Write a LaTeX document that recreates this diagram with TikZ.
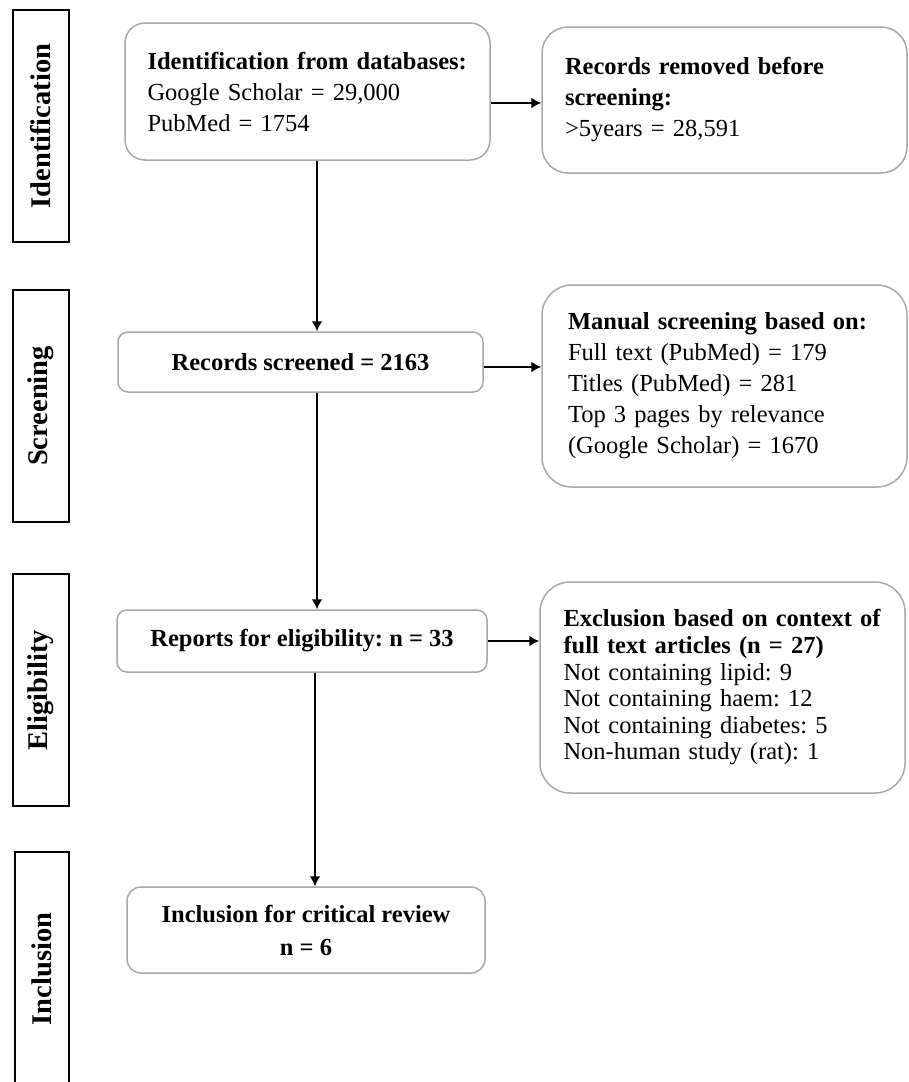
\documentclass[tikz,border=0pt]{standalone}
\usepackage{fontspec}
\setmainfont{Liberation Serif}
\usepackage{tikz}
\usetikzlibrary{arrows.meta,positioning}
\definecolor{boxgray}{HTML}{A8A8A8}
\frenchspacing

\tikzset{
  phase/.style={draw=black,line width=1.4pt,rotate=90,minimum width=232pt,minimum height=56pt,
    inner sep=0pt,font=\fontsize{28.5}{30}\selectfont\bfseries},
  stage/.style={draw=boxgray,line width=1.5pt,inner sep=0pt,font=\fontsize{24.5}{31}\selectfont},
  flow/.style={->,line width=2.8pt},
}

\begin{document}
\begin{tikzpicture}[>={Latex[length=10pt,width=11pt]},x=1pt,y=-1pt]
        \useasboundingbox (0,0) rectangle (908,1082);
        % phases on the left
        \node[phase] (idph) at (41,126) {Identification};
        \node[phase] (scph) at (41,406) {Screening};
        \node[phase] (elph) at (41,690) {Eligibility};
        \node[phase,minimum width=234pt,minimum height=54pt] (inph) at (42,969) {Inclusion};
        % main column
        \node[stage,rounded corners=20pt,minimum width=365pt,minimum height=137pt,text width=320pt,align=left]
          (ident) at (307.5,91.5) {\textbf{Identification from databases:}\\Google Scholar = 29,000\\PubMed = 1754};
        \node[stage,rounded corners=10pt,minimum width=365pt,minimum height=60pt,align=center,font=\fontsize{24.5}{31}\selectfont\bfseries]
          (screened) at (300.5,362) {Records screened = 2163};
        \node[stage,rounded corners=10pt,minimum width=370pt,minimum height=62pt,align=center,font=\fontsize{24.5}{31}\selectfont\bfseries]
          (reports) at (302,641) {Reports for eligibility: n = 33};
        \node[stage,rounded corners=14pt,minimum width=358pt,minimum height=86pt,align=center,font=\fontsize{24.5}{33}\selectfont\bfseries]
          (incl) at (306,930) {Inclusion for critical review\\n = 6};
        % side column
        \node[stage,rounded corners=26pt,minimum width=365pt,minimum height=146pt,text width=319pt,align=left]
          (removed) at (724.5,100) {\textbf{Records removed before}\\\textbf{screening:}\\>5years = 28,591};
        \node[stage,rounded corners=30pt,minimum width=365pt,minimum height=202pt,text width=313pt,align=left]
          (manual) at (724.5,386) {\textbf{Manual screening based on:}\\Full text (PubMed) = 179\\Titles (PubMed) = 281\\Top 3 pages by relevance\\(Google Scholar) = 1670};
        \node[stage,rounded corners=30pt,minimum width=365pt,minimum height=211pt,text width=318pt,align=left,font=\fontsize{24.5}{26.6}\selectfont]
          (excl) at (722.5,687.5) {\textbf{Exclusion based on context of}\\\textbf{full text articles (n = 27)}\\Not containing lipid: 9\\Not containing haem: 12\\Not containing diabetes: 5\\Non-human study (rat): 1};
        % connectors
        \coordinate (spine) at (317,0);
        \draw[flow] (ident.south -| spine) -- (screened.north -| spine);
        \draw[flow] (screened.south -| spine) -- (reports.north -| spine);
        \draw[flow] ([xshift=-2pt]reports.south -| spine) -- ([xshift=-2pt]incl.north -| spine);
        \draw[flow] ([yshift=-11.5pt]ident.east) -- ([yshift=-11.5pt]ident.east -| removed.west);
        \draw[flow] ([yshift=-5pt]screened.east) -- ([yshift=-5pt]screened.east -| manual.west);
        \draw[flow] (reports.east) -- (reports.east -| excl.west);
      \end{tikzpicture}
\end{document}
